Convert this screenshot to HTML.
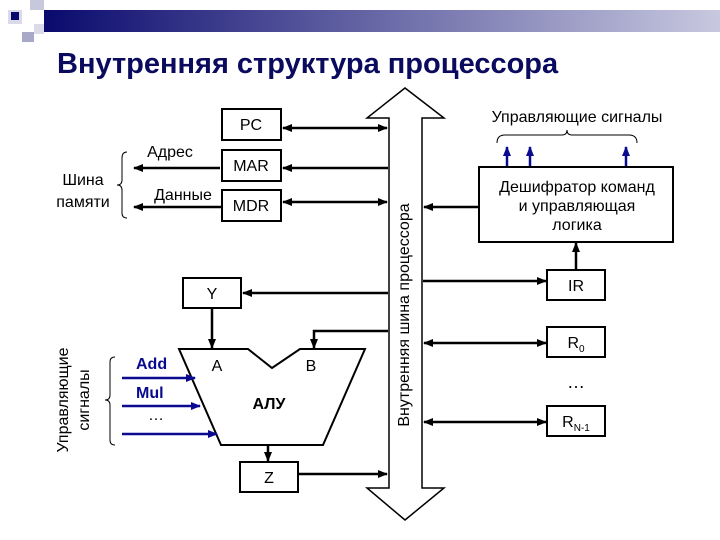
<!DOCTYPE html>
<html><head><meta charset="utf-8"><style>
body{margin:0;background:#fff;}
svg{display:block;font-family:"Liberation Sans",sans-serif;}
</style></head><body>
<svg width="720" height="540" viewBox="0 0 720 540" xmlns="http://www.w3.org/2000/svg">
<defs>
<linearGradient id="g" x1="0" x2="1"><stop offset="0" stop-color="#0a0a6e"/><stop offset="1" stop-color="#c8c8e0"/></linearGradient>
<marker id="a" viewBox="0 0 10 10" refX="9" refY="5" markerWidth="4" markerHeight="4" orient="auto-start-reverse"><path d="M0,1 L10,5 L0,9 z" fill="#000"/></marker>
<marker id="b" viewBox="0 0 10 10" refX="9" refY="5" markerWidth="4" markerHeight="4" orient="auto-start-reverse"><path d="M0,1 L10,5 L0,9 z" fill="#0a0a90"/></marker>
</defs>
<rect x="44" y="10" width="676" height="22" fill="url(#g)"/>
<rect x="30" y="0" width="14" height="10" fill="#c8c8dc"/>
<rect x="8" y="10" width="14" height="14" fill="#dadae8"/>
<rect x="11" y="12" width="8" height="8" fill="#0a0a6e"/>
<rect x="22" y="32" width="12" height="10" fill="#a8a8c8"/>
<rect x="34" y="24" width="10" height="10" fill="#dadae8"/>
<text x="57" y="73" font-size="29" font-weight="bold" fill="#0a0a5e">Внутренняя структура процессора</text>
<g stroke="#000" stroke-width="2" fill="none">
<path d="M389,488 V118 H367 L405,88 L444,118 H422 V488 H444 L405,520 L367,488 Z" stroke-width="1.5"/>
<rect x="222" y="109" width="59" height="31"/>
<rect x="222" y="150" width="59" height="31"/>
<rect x="222" y="190" width="59" height="31"/>
<rect x="183" y="278" width="58" height="30"/>
<rect x="240" y="462" width="58" height="30"/>
<path d="M179,349 H248 L272,368 L300,349 H365 L323,445 H221 Z"/>
<rect x="479" y="167" width="194" height="75"/>
<rect x="547" y="270" width="58" height="30"/>
<rect x="547" y="327" width="58" height="30"/>
<rect x="547" y="406" width="58" height="30"/>
<g stroke-width="2.5">
<line x1="283" y1="128" x2="387" y2="128" marker-start="url(#a)" marker-end="url(#a)"/>
<line x1="388" y1="168" x2="283" y2="168" marker-end="url(#a)"/>
<line x1="220" y1="168" x2="134" y2="168" marker-end="url(#a)"/>
<line x1="283" y1="202" x2="387" y2="202" marker-start="url(#a)" marker-end="url(#a)"/>
<line x1="222" y1="207" x2="134" y2="207" marker-end="url(#a)"/>
<line x1="388" y1="293" x2="243" y2="293" marker-end="url(#a)"/>
<line x1="212" y1="309" x2="212" y2="348" marker-end="url(#a)"/>
<path d="M388,331 H314 V348" marker-end="url(#a)"/>
<line x1="268" y1="445" x2="268" y2="461" marker-end="url(#a)"/>
<line x1="299" y1="474" x2="387" y2="474" marker-end="url(#a)"/>
<line x1="478" y1="207" x2="424" y2="207" marker-end="url(#a)"/>
<line x1="423" y1="281" x2="546" y2="281" marker-end="url(#a)"/>
<line x1="576" y1="270" x2="576" y2="243" marker-end="url(#a)"/>
<line x1="424" y1="343" x2="546" y2="343" marker-start="url(#a)" marker-end="url(#a)"/>
<line x1="424" y1="422" x2="546" y2="422" marker-start="url(#a)" marker-end="url(#a)"/>
</g>
<g stroke="#0a0a90" stroke-width="2.5">
<line x1="507" y1="166" x2="507" y2="147" marker-end="url(#b)"/>
<line x1="530" y1="166" x2="530" y2="147" marker-end="url(#b)"/>
<line x1="626" y1="166" x2="626" y2="147" marker-end="url(#b)"/>
<line x1="122" y1="378" x2="195" y2="378" marker-end="url(#b)"/>
<line x1="122" y1="406" x2="200" y2="406" marker-end="url(#b)"/>
<line x1="122" y1="434" x2="217" y2="434" marker-end="url(#b)"/>
</g>
<g stroke-width="1">
<path d="M497,143 Q497,135 505,135 H562 Q567,135 567,130 Q567,135 572,135 H629 Q637,135 637,143"/>
<path d="M127,152 Q122,152 122,158 V180 Q122,185 117,185 Q122,185 122,190 V213 Q122,218 127,218"/>
<path d="M115,357 Q110,357 110,362 V395 Q110,400 105,400 Q110,400 110,405 V440 Q110,445 115,445"/>
</g>
</g>
<g font-size="16" text-anchor="middle">
<text x="251" y="130">PC</text>
<text x="251" y="171">MAR</text>
<text x="251" y="211">MDR</text>
<text x="212" y="299">Y</text>
<text x="269" y="483">Z</text>
<text x="217" y="371">A</text>
<text x="311" y="371">B</text>
<text x="269" y="409" font-weight="bold">АЛУ</text>
<text x="576" y="291">IR</text>
<text x="576" y="348">R<tspan font-size="10" dy="4">0</tspan></text>
<text x="576" y="427">R<tspan font-size="10" dy="4">N-1</tspan></text>
<text x="576" y="388" font-size="18">…</text>
<text x="577" y="192">Дешифратор команд</text>
<text x="577" y="211">и управляющая</text>
<text x="577" y="230">логика</text>
<text x="577" y="122">Управляющие сигналы</text>
<text x="83" y="185">Шина</text>
<text x="83" y="207">памяти</text>
<text x="170" y="157">Адрес</text>
<text x="183" y="200">Данные</text>
<text x="409" y="315" transform="rotate(-90 409 315)">Внутренняя шина процессора</text>
<text x="68" y="400" transform="rotate(-90 68 400)">Управляющие</text>
<text x="89" y="400" transform="rotate(-90 89 400)">сигналы</text>
</g>
<g font-size="16" fill="#0a0a90" font-weight="bold">
<text x="136" y="369">Add</text>
<text x="136" y="398">Mul</text>
<text x="148" y="420" font-weight="normal" fill="#000">…</text>
</g>
</svg>
</body></html>
